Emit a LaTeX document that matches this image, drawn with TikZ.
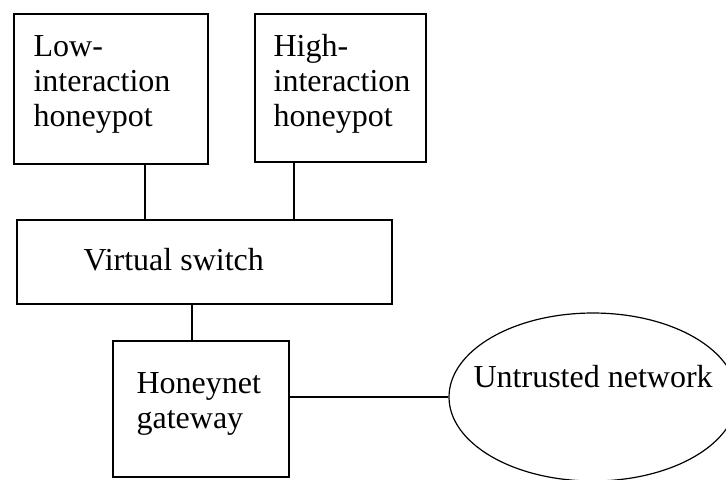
\documentclass[tikz,border=0pt]{standalone}
\usepackage{fontspec}
\setmainfont{Liberation Serif}
\usetikzlibrary{shapes,calc}

\begin{document}
\begin{tikzpicture}[
    x=0.5pt, y=-0.5pt, line width=0.6pt,
    font=\fontsize{16}{17.6}\selectfont,
    box/.style={rectangle, draw, inner sep=0pt},
    netnode/.style={ellipse, draw, inner sep=0pt, minimum width=144pt, minimum height=84pt},
    txt/.style={inner sep=0pt, anchor=base west, align=left}
]
    \useasboundingbox (0,0) rectangle (726,479);
    % boxes
    \node[box, minimum width=97pt, minimum height=75pt] (low) at (111,89) {};
    \node[box, minimum width=85.5pt, minimum height=74pt] (high) at (340.5,88) {};
    \node[box, minimum width=187.5pt, minimum height=42pt] (sw) at (204.5,262) {};
    \node[box, minimum width=88pt, minimum height=68pt] (gw) at (201,409) {};
    \node[netnode] (net) at (593,397) {};
    % labels (base = last line)
    \node[txt] (lowtxt) at (33,126.5) {Low-\\interaction\\honeypot};
    \node[txt] (hightxt) at (273,126.5) {High-\\interaction\\honeypot};
    \node[txt] (swtxt) at (83,270) {Virtual switch};
    \node[txt] (gwtxt) at (136,428.5) {Honeynet\\gateway};
    \node[txt] (nettxt) at (473,387) {Untrusted network};
    % links
    \coordinate (lowtap) at ([xshift=17pt]low.south);
    \coordinate (hightap) at ([xshift=-23.25pt]high.south);
    \coordinate (gwtap) at ([xshift=-6.25pt]sw.south);
    \draw (lowtap) -- (lowtap |- sw.north);
    \draw (hightap) -- (hightap |- sw.north);
    \draw (gwtap) -- (gwtap |- gw.north);
    \draw (net.west) -- (net.west -| gw.east);
\end{tikzpicture}
\end{document}
